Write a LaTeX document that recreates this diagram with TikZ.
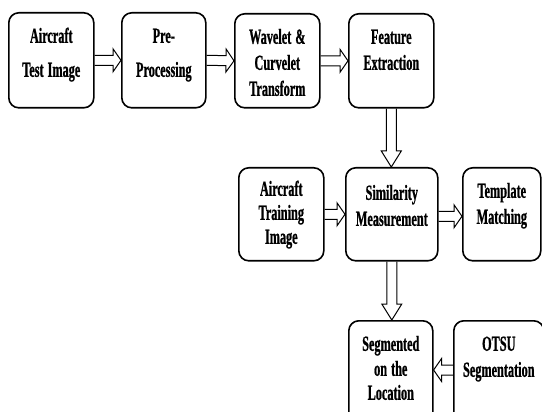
\documentclass[tikz,border=0pt]{standalone}
\usepackage{fontspec}
\newfontfamily\boxfont[FakeStretch=0.57, FakeBold=0.8]{Liberation Serif}
\usetikzlibrary{arrows.meta,calc}

\tikzset{
  box/.style={draw, line width=1.6pt, rounded corners=10pt, anchor=north west,
    align=center, inner sep=0pt, text height=30pt,
    font=\boxfont\bfseries\fontsize{21.5}{26}\selectfont,
    execute at begin node={\spaceskip=4pt\relax}},
  blockarrow/.style n args={3}{line width=1pt, to path={
    ($(\tikztostart)!#1!90:(\tikztotarget)$)
    -- ($($(\tikztotarget)!#3!(\tikztostart)$)!#1!90:(\tikztotarget)$)
    -- ($($(\tikztotarget)!#3!(\tikztostart)$)!#2!90:(\tikztotarget)$)
    -- (\tikztotarget)
    -- ($($(\tikztotarget)!#3!(\tikztostart)$)!#2!-90:(\tikztotarget)$)
    -- ($($(\tikztotarget)!#3!(\tikztostart)$)!#1!-90:(\tikztotarget)$)
    -- ($(\tikztostart)!#1!-90:(\tikztotarget)$)}},
  harrow/.style={blockarrow={5pt}{11.5pt}{8pt}},
  varrow/.style={blockarrow={5pt}{10pt}{16pt}}
}

\begin{document}
\begin{tikzpicture}[x=1pt, y=-1pt]
    \useasboundingbox (0,0) rectangle (542,412);
    \clip (0,0) rectangle (542,412);

    % First row
    \node[box, text width=85pt, text depth=65pt] (test) at (8,12) {Aircraft\\[8pt]Test Image};
    \node[box, text width=84pt, text depth=65pt] (pre) at (121,12) {Pre-\\[8pt]Processing};
    \node[box, text width=85pt, text depth=64pt] (wave) at (234,13) {Wavelet \&\\Curvelet\\Transform};
    \node[box, text width=85pt, text depth=64pt] (feat) at (348,13) {Feature\\Extraction};

    % Second row
    \node[box, text width=85pt, text height=28pt, text depth=65pt] (train) at (238,167) {Aircraft\\[-2pt]Training\\[-2pt]Image};
    \node[box, text width=92pt, text height=32pt, text depth=61pt] (sim) at (345,167) {Similarity\\Measurement};
    \node[box, text width=78pt, text depth=63pt] (templ) at (462,167) {Template\\Matching};

    % Third row
    \node[box, text width=84pt, text depth=80pt] (seg) at (348,320) {Segmented\\[-1pt]on the\\[-2pt]Location};
    \node[box, text width=90pt, text depth=80pt] (otsu) at (453,320) {OTSU\\Segmentation};

    % Arrows
    \draw[harrow] (test.east) to (pre.west);
    \draw[harrow] (pre.east) to (wave.west);
    \draw[harrow] (wave.east) to (feat.west);
    \draw[varrow] (feat.south) to (feat.south |- sim.north);
    \draw[harrow] (train.east) to (train.east -| sim.west);
    \draw[harrow] ([yshift=-2pt]sim.east) to ([yshift=-2pt]sim.east -| templ.west);
    \draw[varrow] (sim.south) to (sim.south |- seg.north);
    \draw[harrow] (otsu.west |- 0,370) to (seg.east |- 0,370);
\end{tikzpicture}
\end{document}
